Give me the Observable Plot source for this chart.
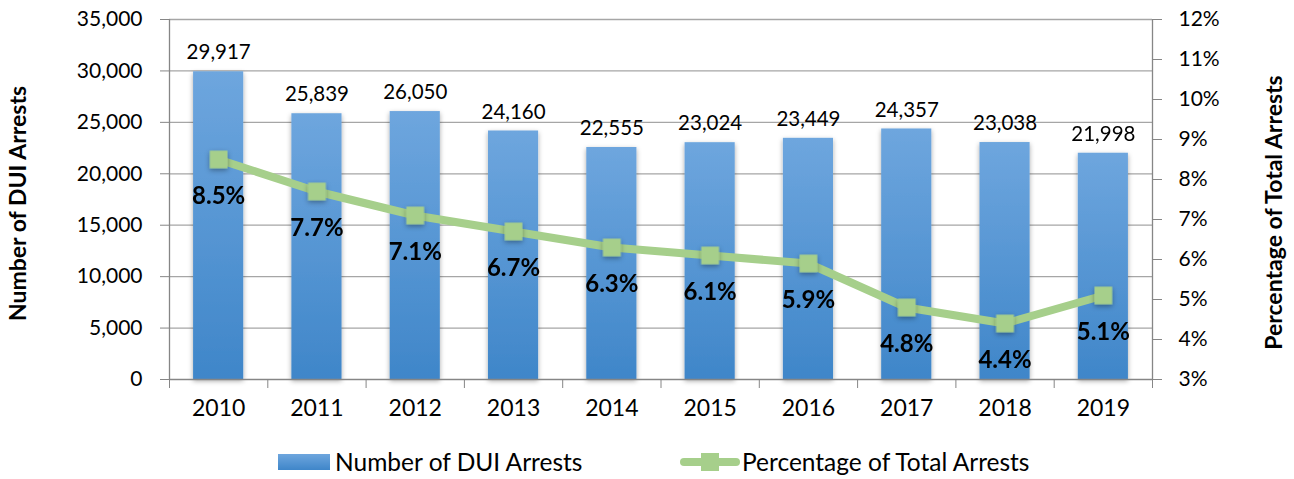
<!DOCTYPE html>
<html>
<head>
<meta charset="utf-8">
<script src="https://cdn.jsdelivr.net/npm/d3@7"></script>
<script src="https://cdn.jsdelivr.net/npm/@observablehq/plot@0.6"></script>
<style>
  html, body { margin: 0; padding: 0; background: #fff; }
  #chart { width: 1294px; }
  .legend { height: 38px; font-family: Lato, "Open Sans", sans-serif; font-size: 24.5px; color: #000; position: relative; }
  .legend .item { position: absolute; display: flex; align-items: center; top: 6px; }
  .sw-bar { width: 52px; height: 16px; background: linear-gradient(#6ea6de, #3f86c9); margin-right: 5px; }
  .sw-line { position: relative; width: 60px; height: 18px; margin-right: 2px; }
  .sw-line .l { position: absolute; left: 0; right: 0; top: 5px; height: 8px; border-radius: 4px; background: #a6cf8b; }
  .sw-line .m { position: absolute; left: 21px; top: 0; width: 18px; height: 18px; background: #a6cf8b; }
</style>
</head>
<body>
<div id="chart"></div>
<script>
const years = [2010, 2011, 2012, 2013, 2014, 2015, 2016, 2017, 2018, 2019];
const arrests = [29917, 25839, 26050, 24160, 22555, 23024, 23449, 24357, 23038, 21998];
const percents = [8.5, 7.7, 7.1, 6.7, 6.3, 6.1, 5.9, 4.8, 4.4, 5.1];
const countTicks = [0, 5000, 10000, 15000, 20000, 25000, 30000, 35000];
const pctTicks = [3, 4, 5, 6, 7, 8, 9, 10, 11, 12];
const leftTitle = "Number of DUI Arrests";
const rightTitle = "Percentage of Total Arrests";

const yMax = 35000, pMin = 3, pMax = 12;
const toY = p => (p - pMin) / (pMax - pMin) * yMax;
const fromY = y => Math.round(y / yMax * (pMax - pMin) + pMin);

const data = years.map((year, i) => ({year, count: arrests[i], pct: percents[i], py: toY(percents[i])}));
const bounds = d3.range(years.length + 1).map(i => years[0] - 0.5 + i);
const fmt = d3.format(",");
const font = 'Lato, "Open Sans", sans-serif';
const axisColor = "#868686";

const plot = Plot.plot({
  width: 1294,
  height: 441,
  marginLeft: 169,
  marginRight: 142,
  marginTop: 19,
  marginBottom: 62,
  style: {fontFamily: font, fontSize: "21px", color: "#000", background: "#fff"},
  x: {type: "linear", domain: [bounds[0], bounds[bounds.length - 1]]},
  y: {domain: [0, yMax]},
  marks: [
    Plot.gridY(countTicks.slice(1), {stroke: "#a6a6a6", strokeOpacity: 1, strokeWidth: 1.3}),
    Plot.rectY(data, {x1: d => d.year - 0.255, x2: d => d.year + 0.255, y: "count", fill: "url(#barGrad)", className: "bars"}),
    Plot.ruleX([bounds[0], bounds[bounds.length - 1]], {stroke: axisColor, strokeWidth: 1.3}),
    Plot.ruleY([0], {stroke: axisColor, strokeWidth: 1.3}),
    Plot.axisY({ticks: countTicks, tickFormat: fmt, tickSize: 9, tickPadding: 18, stroke: axisColor, label: null, fontSize: 21}),
    Plot.axisY({anchor: "right", ticks: pctTicks.map(toY), tickFormat: d => fromY(d) + "%", tickSize: 9, tickPadding: 17, stroke: axisColor, label: null, fontSize: 21}),
    Plot.axisX({ticks: bounds, tickFormat: () => "", tickSize: 9, stroke: axisColor, label: null}),
    Plot.axisX({ticks: years, tickFormat: d => String(d), tickSize: 0, tickPadding: 20, label: null, fontSize: 23}),
    Plot.line(data, {x: "year", y: "py", stroke: "#a6cf8b", strokeWidth: 8, className: "pline"}),
    Plot.dot(data, {x: "year", y: "py", symbol: "square", r: 10, fill: "#a6cf8b", stroke: "none", className: "pdots"}),
    Plot.text(data, {x: "year", y: "count", text: d => fmt(d.count), dy: -19, fontSize: 20.5, fill: "#000"}),
    Plot.text(data, {x: "year", y: "py", text: d => d.pct.toFixed(1) + "%", dy: 37, fontSize: 24, fontWeight: "bold", fill: "#000"}),
    Plot.text([leftTitle], {frameAnchor: "left", textAnchor: "middle", lineAnchor: "middle", rotate: -90, dx: -151, dy: 4, fontSize: 23, fontWeight: "bold", fill: "#000"}),
    Plot.text([rightTitle], {frameAnchor: "right", textAnchor: "middle", lineAnchor: "middle", rotate: -90, dx: 122, dy: 13, fontSize: 23, fontWeight: "bold", fill: "#000"})
  ]
});

plot.insertAdjacentHTML("afterbegin", `
<defs>
  <linearGradient id="barGrad" x1="0" y1="0" x2="0" y2="1">
    <stop offset="0" stop-color="#6ea6de"/>
    <stop offset="1" stop-color="#3f86c9"/>
  </linearGradient>
  <filter id="shadow" x="-30%" y="-10%" width="160%" height="130%">
    <feDropShadow dx="0" dy="2" stdDeviation="2.5" flood-color="#000" flood-opacity="0.35"/>
  </filter>
</defs>`);
plot.querySelectorAll(".bars rect").forEach(r => r.setAttribute("filter", "url(#shadow)"));
plot.querySelectorAll(".pdots").forEach(g => g.setAttribute("filter", "url(#shadow)"));

const root = document.getElementById("chart");
root.appendChild(plot);

const legend = document.createElement("div");
legend.className = "legend";
legend.innerHTML = `
  <div class="item" style="left:278px"><div class="sw-bar"></div><span>Number of DUI Arrests</span></div>
  <div class="item" style="left:680px"><div class="sw-line"><div class="l"></div><div class="m"></div></div><span>Percentage of Total Arrests</span></div>`;
root.appendChild(legend);
</script>
</body>
</html>
